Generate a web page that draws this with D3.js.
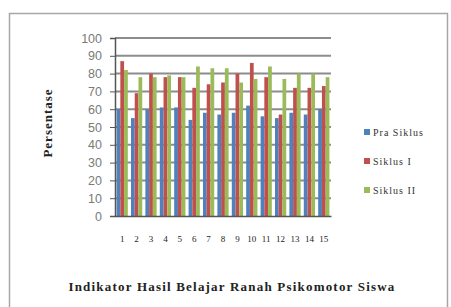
<!DOCTYPE html>
<html>
<head>
<meta charset="utf-8">
<script src="https://cdn.jsdelivr.net/npm/d3@7"></script>
<style>
  body { margin: 0; background: #fff; }
  svg { display: block; }
</style>
</head>
<body>
<div id="chart-container"></div>
<script>
// data
const categories = ["1","2","3","4","5","6","7","8","9","10","11","12","13","14","15"];
const seriesNames = ["Pra Siklus", "Siklus I", "Siklus II"];
const praSiklus = [60, 55, 60, 61, 61, 54, 58, 57, 58, 62, 56, 55, 58, 57, 60];
const siklus1   = [87, 69, 80, 78, 78, 72, 74, 75, 80, 86, 78, 57, 72, 72, 73];
const siklus2   = [82, 78, 78, 79, 78, 84, 83, 83, 75, 77, 84, 77, 80, 80, 78];
const yTicks = [0, 10, 20, 30, 40, 50, 60, 70, 80, 90, 100];
const colors = ["#4F81BD", "#C0504D", "#9BBB59"];

const allSeries = [praSiklus, siklus1, siklus2];

const W = 451, H = 307;
const margin = {top: 38, right: 120, bottom: 91, left: 115},
      width = 331 - margin.left,
      height = 216 - margin.top;

const svg = d3.select("#chart-container").append("svg")
    .attr("width", W)
    .attr("height", H);

// outer frame
svg.append("rect")
    .attr("x", 9.5).attr("y", 13.5)
    .attr("width", 438).attr("height", 310)
    .attr("fill", "#fff")
    .attr("stroke", "#a6a6a6")
    .attr("stroke-width", 1.5);

const g = svg.append("g")
    .attr("transform", `translate(${margin.left}, ${margin.top})`);

const x = d3.scaleBand()
    .domain(categories)
    .range([0, width])
    .paddingInner(0.22)
    .paddingOuter(0.11);

const xSub = d3.scaleBand()
    .domain(d3.range(3))
    .range([0, x.bandwidth()]);

const y = d3.scaleLinear()
    .domain([0, 100])
    .range([height, 0]);

// gridlines
g.append("g")
    .selectAll("line")
    .data(yTicks.filter(d => d > 0))
    .enter().append("line")
    .attr("x1", 0).attr("x2", width)
    .attr("y1", d => y(d)).attr("y2", d => y(d))
    .attr("stroke", "#8c8c8c")
    .attr("stroke-width", 2);

// bars
const groups = g.selectAll(".grp")
    .data(categories)
    .enter().append("g")
    .attr("class", "grp")
    .attr("transform", d => `translate(${x(d)}, 0)`);

groups.selectAll("rect")
    .data((d, i) => allSeries.map((s, k) => ({k: k, v: s[i]})))
    .enter().append("rect")
    .attr("x", d => xSub(d.k))
    .attr("y", d => y(d.v))
    .attr("width", xSub.bandwidth())
    .attr("height", d => height - y(d.v))
    .attr("fill", d => colors[d.k]);

// y axis
const yAxis = g.append("g")
    .call(d3.axisLeft(y).tickValues(yTicks).tickSize(5).tickPadding(8));
yAxis.select(".domain").attr("stroke", "#555").attr("stroke-width", 1.5);
yAxis.selectAll(".tick line").attr("stroke", "#555");
yAxis.selectAll("text")
    .attr("fill", "#7a7a7a")
    .style("font-family", "'Liberation Sans', Arial, sans-serif")
    .style("font-size", "12.5px");

// x axis
const xAxis = g.append("g")
    .attr("transform", `translate(0, ${height})`)
    .call(d3.axisBottom(x).tickSize(0).tickPadding(20));
xAxis.select(".domain").attr("stroke", "#555").attr("stroke-width", 1.5);
xAxis.selectAll("text")
    .attr("fill", "#222")
    .style("font-family", "'Liberation Serif', 'Times New Roman', serif")
    .style("font-size", "9px");

// axis titles
svg.append("text")
    .attr("transform", "rotate(-90)")
    .attr("x", -123)
    .attr("y", 52)
    .attr("text-anchor", "middle")
    .style("font-family", "'Liberation Serif', 'Times New Roman', serif")
    .style("font-weight", "bold")
    .style("font-size", "13px")
    .style("letter-spacing", "1px")
    .attr("fill", "#222")
    .text("Persentase");

svg.append("text")
    .attr("x", 232)
    .attr("y", 291)
    .attr("text-anchor", "middle")
    .style("font-family", "'Liberation Serif', 'Times New Roman', serif")
    .style("font-weight", "bold")
    .style("font-size", "13px")
    .style("letter-spacing", "1.2px")
    .attr("fill", "#222")
    .text("Indikator Hasil Belajar Ranah Psikomotor Siswa");

// legend
const legend = svg.append("g")
    .attr("transform", "translate(364, 133)");

const items = legend.selectAll(".item")
    .data(seriesNames)
    .enter().append("g")
    .attr("class", "item")
    .attr("transform", (d, i) => `translate(0, ${i * 29})`);

items.append("rect")
    .attr("x", 0).attr("y", -4)
    .attr("width", 6).attr("height", 6)
    .attr("fill", (d, i) => colors[i]);

items.append("text")
    .attr("x", 9)
    .attr("y", 3)
    .style("font-family", "'Liberation Serif', 'Times New Roman', serif")
    .style("font-size", "10px")
    .style("letter-spacing", "1px")
    .attr("fill", "#333")
    .text(d => d);
</script>
</body>
</html>
